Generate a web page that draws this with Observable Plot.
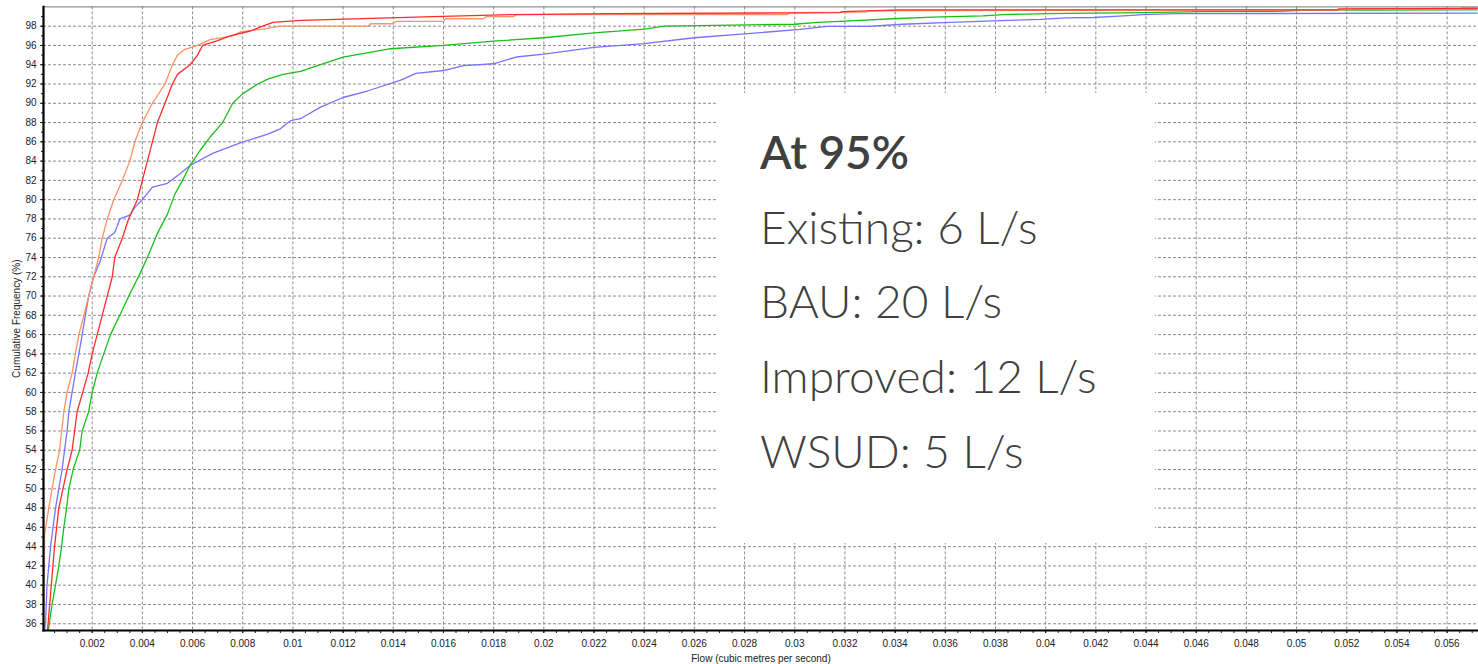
<!DOCTYPE html>
<html>
<head>
<meta charset="utf-8">
<script src="https://cdn.jsdelivr.net/npm/d3@7"></script>
<script src="https://cdn.jsdelivr.net/npm/@observablehq/plot@0.6"></script>
<style>
  html, body { margin: 0; padding: 0; background: #fff; }
  #chart { width: 1478px; height: 664px; }
</style>
</head>
<body>
<div id="chart"></div>
<script>
// ---- data ----
const seriesNames = ["BAU", "Improved", "WSUD", "Existing"];
const seriesColors = ["#7474ff", "#18bf18", "#ff9262", "#ff2b2b"];

const bauFlow = [0.0001,0.00014,0.0002,0.00034,0.00054,0.0008,0.0009,0.001,0.00107,0.0012,0.00133,0.00147,0.0016,0.00173,0.00186,0.00206,0.00233,0.0026,0.0029,0.0031,0.0035,0.0037,0.004,0.0044,0.005,0.0055,0.0059,0.0068,0.0079,0.009,0.0095,0.0099,0.0103,0.0111,0.012,0.013,0.0143,0.0149,0.016,0.0168,0.018,0.0189,0.02,0.022,0.024,0.026,0.028,0.0302,0.0313,0.0329,0.0343,0.0362,0.0385,0.0398,0.0408,0.0419,0.0431,0.0439,0.0452,0.0572];
const bauFreq = [35.3,36,40,44,48,52,54,56,58,60,62,64,66,68,70,72,73.7,76,76.6,78,78.4,79.2,80,81.3,81.7,82.7,83.55,84.8,85.9,86.8,87.35,88.2,88.4,89.6,90.6,91.3,92.4,93.1,93.4,93.9,94.1,94.8,95.1,95.8,96.2,96.8,97.2,97.66,97.97,97.97,98.2,98.4,98.6,98.7,98.87,98.9,99.07,99.2,99.3,99.35];

const improvedFlow = [0.00025,0.0004,0.00054,0.00067,0.00078,0.00087,0.00098,0.00107,0.00124,0.0015,0.0016,0.00186,0.002,0.0022,0.00246,0.00273,0.0031,0.00346,0.0039,0.0042,0.0046,0.005,0.0053,0.0056,0.0059,0.0063,0.0067,0.0072,0.0076,0.008,0.0086,0.009,0.0096,0.0103,0.0111,0.012,0.0139,0.016,0.018,0.02,0.022,0.024,0.0248,0.03,0.0309,0.0318,0.0339,0.0355,0.0375,0.0383,0.04,0.0439,0.0462,0.0495,0.0504,0.0572];
const improvedFreq = [35.3,38,40,42,44,46,48,50,52,54,56,58,60,62,64,66,68,70,72.3,74,76.5,78.5,80.6,82,83.55,85.1,86.5,88,90,91,92,92.5,93,93.3,94,94.8,95.66,96,96.44,96.8,97.3,97.7,98,98.2,98.4,98.5,98.77,98.93,99.07,99.2,99.3,99.4,99.5,99.56,99.66,99.7];

const wsudFlow = [0.00006,0.0001,0.00027,0.0004,0.00054,0.0007,0.00087,0.001,0.0012,0.00133,0.00147,0.00167,0.00186,0.00206,0.00226,0.0024,0.0026,0.00286,0.0032,0.0035,0.0037,0.004,0.0044,0.0049,0.0052,0.0054,0.0057,0.0062,0.0067,0.0076,0.0079,0.0088,0.0095,0.013,0.0131,0.014,0.0141,0.016,0.0161,0.0176,0.0177,0.0188,0.0189,0.0297,0.0298,0.0328,0.033,0.052,0.0525,0.0565,0.0566,0.0572];
const wsudFreq = [35.3,45.2,48,50,52,54,58,60,62,64,66,68,70,72,74,76,78,80,82,84,86,88,90,92,94,95,95.6,96,96.6,97,97.4,97.7,98,98,98.25,98.25,98.5,98.5,98.77,98.77,99,99,99.2,99.2,99.4,99.45,99.6,99.7,99.8,99.8,99.9,99.9];

const existingFlow = [0.00022,0.00037,0.0005,0.00067,0.001,0.0012,0.0014,0.00184,0.002,0.0022,0.0026,0.0028,0.0029,0.0032,0.00345,0.0038,0.004,0.0042,0.0044,0.0046,0.0049,0.0052,0.0054,0.0059,0.0062,0.0064,0.007,0.0075,0.0083,0.0088,0.0092,0.0103,0.0156,0.0187,0.0226,0.0318,0.0319,0.0342,0.0516,0.0517,0.0572];
const existingFreq = [35.3,40,44,48,52,54,58,62,64,66,70,72,74,76,78,80,82,84,86,88,90,92,93,94,95,96,96.5,97,97.5,98,98.4,98.6,99,99.2,99.3,99.4,99.5,99.7,99.7,99.8,99.85];

const xTickValues = d3.range(1, 29).map(i => i * 2 / 1000);   // 0.002 … 0.056
const xMinorTicks = d3.range(1, 115).map(i => i / 2000);        // every 0.0005
const yTickValues = d3.range(36, 100, 2);                        // 36 … 98
const yMinorTicks = d3.range(36, 100, 1);
const xDomain = [0.00006, 0.05725];
const yDomain = [35.3, 100];

const annotationTitle = "At 95%";
const annotationLines = ["Existing: 6 L/s", "BAU: 20 L/s", "Improved: 12 L/s", "WSUD: 5 L/s"];

// ---- build table ----
const seriesData = {BAU: [bauFlow, bauFreq], Improved: [improvedFlow, improvedFreq], WSUD: [wsudFlow, wsudFreq], Existing: [existingFlow, existingFreq]};
const rows = seriesNames.flatMap(name => {
  const [f, q] = seriesData[name];
  return f.map((v, i) => ({series: name, flow: v, freq: q[i]}));
});

const gridStyle = {stroke: "#8c8c8c", strokeWidth: 1, strokeDasharray: "3,2"};

const chart = Plot.plot({
  width: 1478,
  height: 664,
  marginLeft: 43,
  marginRight: 0,
  marginTop: 6.4,
  marginBottom: 34,
  style: {fontFamily: "'Liberation Sans', Arial, sans-serif", fontSize: "10px", color: "#222", background: "#fff"},
  x: {domain: xDomain},
  y: {domain: yDomain},
  color: {domain: seriesNames, range: seriesColors},
  marks: [
    Plot.ruleX(xTickValues, gridStyle),
    Plot.ruleY(yTickValues, gridStyle),
    Plot.line(rows, {x: "flow", y: "freq", z: "series", stroke: "series", strokeWidth: 1.3, clip: true}),
    Plot.frame({anchor: "top", stroke: "#777", strokeWidth: 1}),
    Plot.axisX({ticks: xMinorTicks, tickSize: 3, tickFormat: () => "", label: null}),
    Plot.axisX({ticks: xTickValues, tickSize: 3, tickPadding: 6, tickFormat: d3.format("~g"),
      label: "Flow (cubic metres per second)", labelAnchor: "center", labelOffset: 31, labelArrow: "none"}),
    Plot.axisY({ticks: yMinorTicks, tickSize: 2, tickFormat: () => "", label: null}),
    Plot.axisY({ticks: yTickValues, tickSize: 3, tickPadding: 4,
      label: "Cumulative Frequency (%)", labelAnchor: "center", labelOffset: 31, labelArrow: "none"}),
    Plot.frame({anchor: "left", stroke: "#000", strokeWidth: 2.2}),
    Plot.frame({anchor: "bottom", stroke: "#000", strokeWidth: 2.2})
  ]
});

// ---- annotation panel (white box with text) ----
const svg = d3.select(chart);
const ann = svg.append("g").attr("class", "annotation").attr("text-anchor", "start");
ann.append("rect").attr("x", 718).attr("y", 93).attr("width", 437).attr("height", 450).attr("fill", "#fff");
ann.append("text").attr("x", 760).attr("y", 169).attr("text-anchor", "start")
  .attr("font-family", "Lato, 'Open Sans', sans-serif").attr("font-size", 46).attr("font-weight", 600)
  .attr("fill", "#404040").text(annotationTitle);
annotationLines.forEach((t, i) => {
  ann.append("text").attr("x", 760).attr("y", 243.5 + i * 74.8).attr("text-anchor", "start")
    .attr("font-family", "Lato, 'Open Sans', sans-serif").attr("font-size", 46).attr("font-weight", 300)
    .attr("fill", "#404040").text(t);
});

document.getElementById("chart").append(chart);
</script>
</body>
</html>
